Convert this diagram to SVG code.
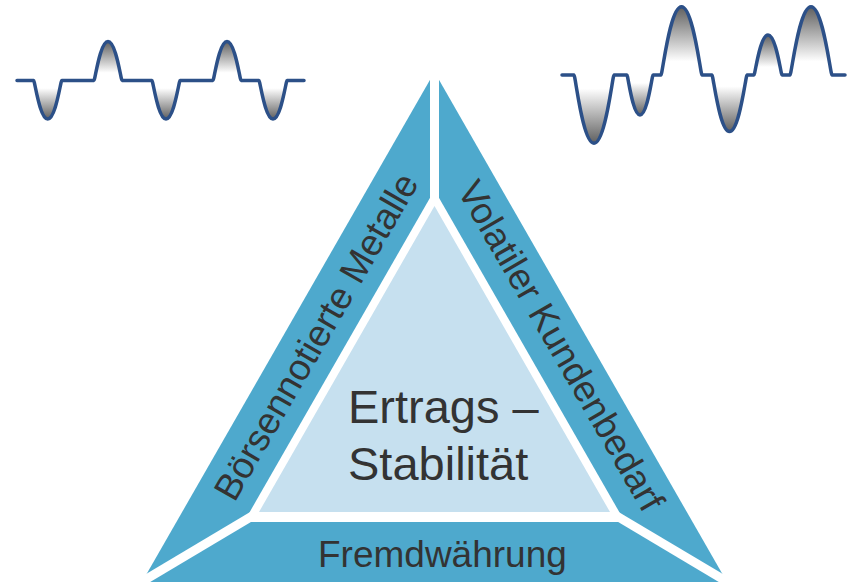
<svg xmlns="http://www.w3.org/2000/svg" width="857" height="583" viewBox="0 0 857 583">
  <defs>
    <linearGradient id="gDown" x1="0" y1="0" x2="0" y2="1">
      <stop offset="0" stop-color="#ffffff"/>
      <stop offset="0.2" stop-color="#ffffff"/>
      <stop offset="1" stop-color="#5f5f5f"/>
    </linearGradient>
    <linearGradient id="gUp" x1="0" y1="1" x2="0" y2="0">
      <stop offset="0" stop-color="#ffffff"/>
      <stop offset="0.2" stop-color="#ffffff"/>
      <stop offset="1" stop-color="#5f5f5f"/>
    </linearGradient>
    <style>
      .lbl { font-family: "Liberation Sans", Arial, sans-serif; fill: #333333; }
      .side { font-size: 37px; }
      .core { font-size: 47px; }
      .wave { fill: none; stroke: #2C5088; stroke-width: 3.5; stroke-linejoin: round; stroke-linecap: round; }
      .dip { fill: url(#gDown); }
      .peak { fill: url(#gUp); }
      .gap { stroke: #ffffff; stroke-width: 9; fill: none; }
    </style>
  </defs>
  <rect width="857" height="583" fill="#ffffff"/>

  <g id="pyramid">
    <polygon points="434.5,72 142,582 727,582" fill="#4EA9CD"/>
    <polygon points="434.5,190 244,522 625,522" fill="#ffffff"/>
    <rect x="430" y="55" width="9" height="150" fill="#ffffff"/>
    <line class="gap" x1="128" y1="590" x2="259" y2="512"/>
    <line class="gap" x1="741" y1="590" x2="610" y2="512"/>
  </g>

  <g id="node-left">
    <text class="lbl side" text-anchor="middle" transform="translate(327,343) rotate(-60)">Börsennotierte Metalle</text>
  </g>

  <g id="node-right">
    <text class="lbl side" text-anchor="middle" transform="translate(550,352) rotate(60)">Volatiler Kundenbedarf</text>
  </g>

  <g id="node-bottom">
    <text class="lbl side" x="318" y="567">Fremdwährung</text>
  </g>

  <g id="node-center">
    <polygon points="434.5,206 259,512 610,512" fill="#C6E0EF"/>
    <text class="lbl core" x="348" y="423">Ertrags –</text>
    <text class="lbl core" x="348" y="480">Stabilität</text>
  </g>

  <g id="wave-left">
    <path class="dip" d="M33.7 80.5 C34.7 80.5 39.7 119 47.7 119 C55.7 119 60.7 80.5 61.7 80.5 Z"/>
    <path class="peak" d="M94 80.5 C95 80.5 100 41.5 108 41.5 C116 41.5 121 80.5 122 80.5 Z"/>
    <path class="dip" d="M152 80.5 C153 80.5 158 119 166 119 C174 119 179 80.5 180 80.5 Z"/>
    <path class="peak" d="M213 80.5 C214 80.5 219 41.5 227 41.5 C235 41.5 240 80.5 241 80.5 Z"/>
    <path class="dip" d="M259 80.5 C260 80.5 265 119 273 119 C281 119 286 80.5 287 80.5 Z"/>
    <path class="wave" d="M17 80.5 H33.7 C34.7 80.5 39.7 119 47.7 119 C55.7 119 60.7 80.5 61.7 80.5 H94 C95 80.5 100 41.5 108 41.5 C116 41.5 121 80.5 122 80.5 H152 C153 80.5 158 119 166 119 C174 119 179 80.5 180 80.5 H213 C214 80.5 219 41.5 227 41.5 C235 41.5 240 80.5 241 80.5 H259 C260 80.5 265 119 273 119 C281 119 286 80.5 287 80.5 H304"/>
  </g>

  <g id="wave-right">
    <path class="dip" d="M574 75 C575.4 75 582.6 143.3 594 143.3 C605.4 143.3 612.6 75 614 75 Z"/>
    <path class="dip" d="M627 75 C627.9 75 632.6 115 640 115 C647.4 115 652.1 75 653 75 Z"/>
    <path class="peak" d="M661 75 C662.4 75 669.8 6.7 681.5 6.7 C693.2 6.7 700.6 75 702 75 Z"/>
    <path class="dip" d="M712 75 C713.2 75 719.5 131.6 729.5 131.6 C739.5 131.6 745.8 75 747 75 Z"/>
    <path class="peak" d="M754 75 C755 75 760 35 768 35 C776 35 781 75 782 75 Z"/>
    <path class="peak" d="M790 75 C791.5 75 799 6.7 811 6.7 C823 6.7 830.5 75 832 75 Z"/>
    <path class="wave" d="M562 75 H574 C575.4 75 582.6 143.3 594 143.3 C605.4 143.3 612.6 75 614 75 H627 C627.9 75 632.6 115 640 115 C647.4 115 652.1 75 653 75 H661 C662.4 75 669.8 6.7 681.5 6.7 C693.2 6.7 700.6 75 702 75 H712 C713.2 75 719.5 131.6 729.5 131.6 C739.5 131.6 745.8 75 747 75 H754 C755 75 760 35 768 35 C776 35 781 75 782 75 H790 C791.5 75 799 6.7 811 6.7 C823 6.7 830.5 75 832 75 H845"/>
  </g>
</svg>
